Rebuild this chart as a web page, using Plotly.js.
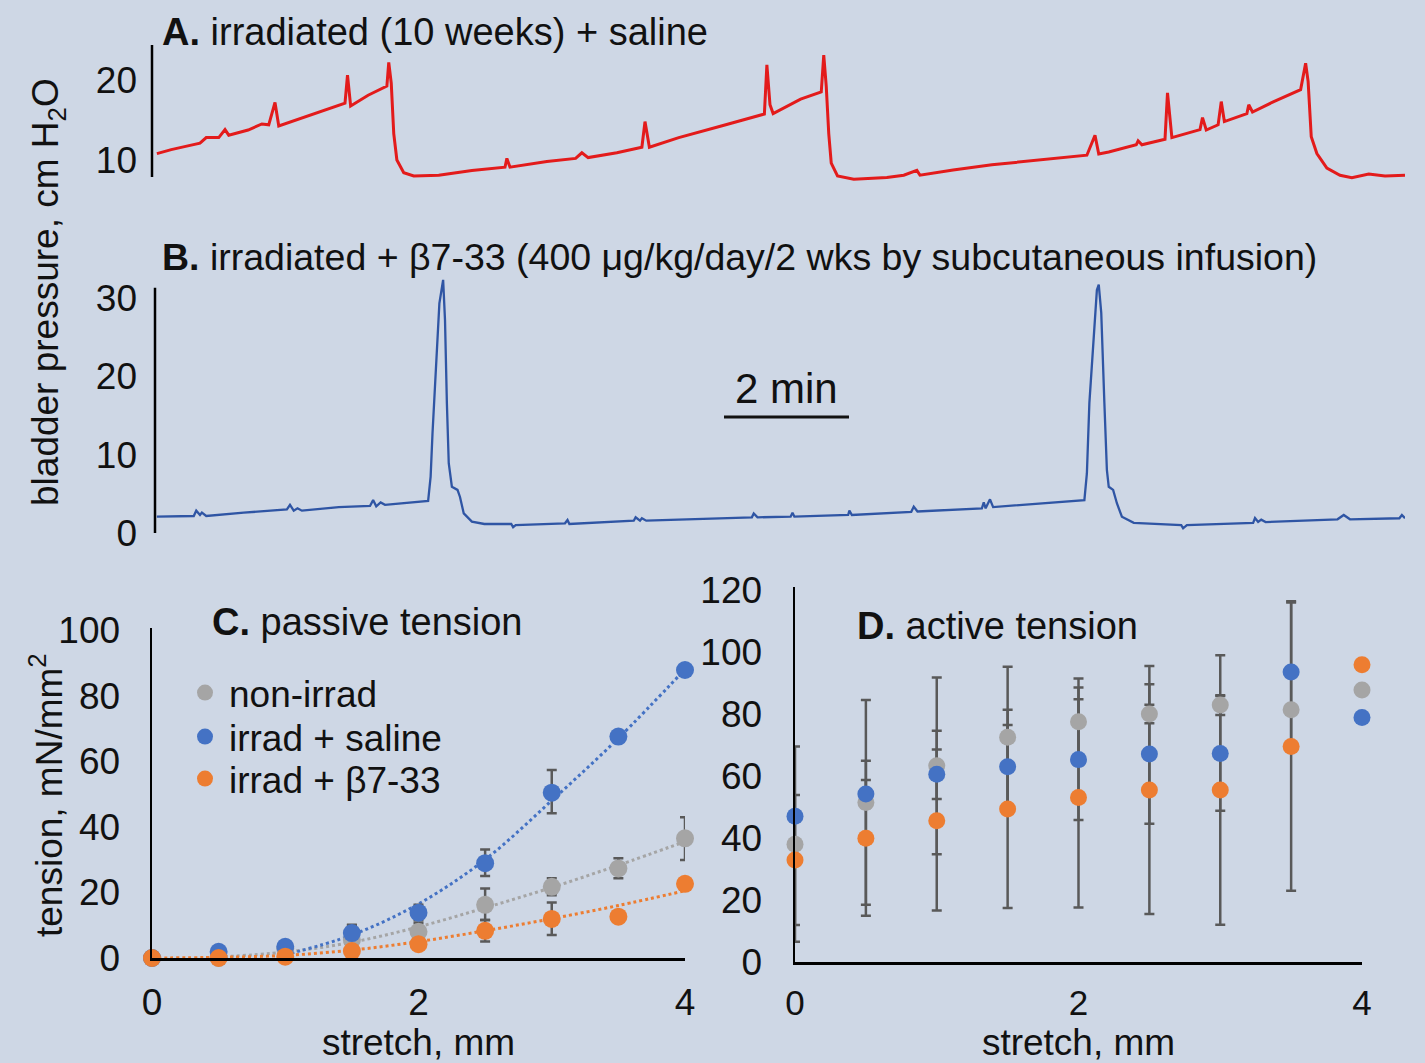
<!DOCTYPE html>
<html>
<head>
<meta charset="utf-8">
<script src="https://cdn.plot.ly/plotly-3.0.1.min.js"></script>
<style>html,body{margin:0;padding:0;background:#ced7e5;}#chart{width:1425px;height:1063px;}</style>
</head>
<body>
<div id="chart"></div>
<script>
// ---------- Panel A: irradiated + saline, bladder pressure trace (time in min, cm H2O)
const timeA = [0.03,0.26,0.49,0.72,0.82,1.02,1.12,1.18,1.49,1.71,1.82,1.92,1.98,2.42,2.88,3.04,3.08,3.13,3.41,3.71,3.74,3.78,3.82,3.87,3.98,4.14,4.54,5.07,5.60,5.63,5.68,6.27,6.73,6.83,6.93,7.39,7.79,7.84,7.91,8.38,9.06,9.58,9.75,9.79,9.84,9.89,10.17,10.33,10.66,10.70,10.74,10.78,10.82,10.92,11.18,11.71,11.98,12.19,12.24,12.77,13.39,14.02,14.48,14.91,15.04,15.10,15.26,15.70,15.73,15.79,16.16,16.20,16.27,16.72,16.76,16.82,17.01,17.06,17.11,17.47,17.50,17.56,17.90,18.33,18.41,18.45,18.50,18.59,18.75,18.96,19.15,19.42,19.68,20.00];
const pressA = [10.8,11.3,11.7,12.1,12.8,12.8,13.8,13.1,13.75,14.5,14.4,17.2,14.25,15.4,16.7,17.1,20.6,16.75,18.1,19.25,22.2,19.6,13.3,10.0,8.4,8.0,8.1,8.7,9.1,10.2,9.1,9.8,10.2,10.9,10.3,10.9,11.6,14.8,11.6,12.8,14.25,15.4,15.75,21.9,16.9,15.8,16.9,17.6,18.5,23.1,19.2,13.3,9.6,8.0,7.6,7.8,8.1,8.7,8.1,8.75,9.4,9.9,10.2,10.6,13.1,10.75,11.0,11.9,12.4,11.9,12.6,18.4,12.8,13.8,15.3,13.75,14.4,17.3,14.8,15.8,16.9,16.0,17.3,18.8,22.1,19.8,12.9,10.8,9.0,8.1,7.8,8.25,8.0,8.1];

// ---------- Panel B: irradiated + b7-33, bladder pressure trace
const timeB = [0.03,0.62,0.66,0.72,0.75,0.82,1.42,2.11,2.16,2.22,2.28,2.35,2.94,3.44,3.49,3.54,3.61,3.68,4.37,4.41,4.44,4.49,4.55,4.61,4.64,4.67,4.70,4.75,4.84,4.88,4.94,5.07,5.27,5.70,5.73,5.77,6.56,6.60,6.63,7.66,7.69,7.76,7.79,7.86,9.55,9.58,9.64,10.17,10.20,10.23,11.09,11.11,11.15,12.10,12.14,12.20,13.23,13.26,13.29,13.36,13.41,14.87,14.91,14.95,15.02,15.07,15.10,15.14,15.19,15.23,15.26,15.33,15.39,15.47,15.66,16.42,16.45,16.51,17.57,17.60,17.65,17.70,17.77,18.92,19.02,19.12,19.91,19.95,20.00];
const pressB = [2.08,2.17,2.85,2.3,2.6,2.17,2.6,3.0,3.6,2.85,3.15,2.85,3.3,3.45,4.2,3.4,3.9,3.6,4.1,7.2,12.7,20.8,29.3,32.3,27.2,16.6,8.9,5.9,5.5,4.6,2.5,1.45,1.15,1.15,0.73,1.0,1.24,1.66,1.15,1.57,2.0,1.57,1.88,1.57,2.0,2.5,2.0,2.08,2.6,2.08,2.3,2.85,2.3,2.7,3.36,2.75,3.15,3.9,3.15,4.3,3.3,4.2,7.6,16.6,25.9,31.0,31.7,28.1,16.6,8.05,5.9,5.5,3.8,2.08,1.3,1.0,0.6,1.0,1.3,1.9,1.4,1.7,1.4,1.75,2.3,1.75,1.88,2.3,1.88];

// ---------- Panels C & D: stretch (mm)
const stretch = [0,0.5,1,1.5,2,2.5,3,3.5,4];
const seriesNames = ['non-irrad','irrad + saline','irrad + \u03b27-33'];

// C. passive tension (mN/mm2)
const passiveNonIrrad = [0,0,2.9,5.5,8.0,16.2,21.7,27.3,36.5];
const passiveSaline   = [0,1.9,3.4,7.6,13.8,28.9,50.4,67.5,87.8];
const passiveB733     = [0,0,0.4,2.1,4.2,8.3,11.9,12.6,22.6];
const passiveNonIrradErrUp = [0,0,0,4.5,2.6,5.0,2.6,3.1,6.4];
const passiveNonIrradErrDn = [0,0,0,4.5,2.6,4.6,2.6,3.0,6.6];
const passiveSalineErrUp   = [0,0,0,2.5,2.4,4.2,6.9,0,0];
const passiveSalineErrDn   = [0,0,0,2.5,2.4,3.9,6.3,0,0];
const passiveB733ErrUp     = [0,0,0,0,0,3.3,5.0,0,0];
const passiveB733ErrDn     = [0,0,0,0,0,3.3,4.9,0,0];
// dotted trend lines
const trendNonIrradX = [0.5,1,1.5,2,2.5,3,3.5,4];
const trendNonIrradY = [0.3,1.8,4.8,9.5,15.3,21.5,28.3,35.5];
const trendSalineX = [1,1.5,2,2.5,3,3.5,4];
const trendSalineY = [1.0,7.0,16.5,30.0,48.0,67.0,88.0];
const trendB733X = [0,0.5,1,1.5,2,2.5,3,3.5,4];
const trendB733Y = [0,0.2,0.8,2.4,5.0,8.3,12.0,16.0,20.5];

// D. active tension (mN/mm2)
const activeNonIrrad = [38,51.5,63.3,72.5,77.5,80,82.9,81.4,87.8];
const activeSaline   = [47,54.2,60.6,63,65.3,67.1,67.3,93.6,78.9];
const activeB733     = [32.9,39.9,45.6,49.4,53.1,55.5,55.5,69.5,95.9];
const activeNonIrradErr = [31.5,33,28.5,22.8,14,3,3.2,0,0];
const activeSalineErr   = [0,4.5,8,13.5,19.5,22.5,18.5,22.8,0];
const activeB733Err     = [21,25,29,32,35.5,40,43.5,46.5,0];

// axis extents of the trace panels (where the drawn axis lines stop)
const axisA = [7.875, 24.375];
const axisB = [0, 31.3];

// ---------- styling
const FONT = 'Liberation Sans, Arial, Helvetica, sans-serif';
const GRAY = '#a5a5a5', BLUE = '#4472c4', ORANGE = '#ed7d31', ERR = '#595959';
const W = 1425, H = 1063;
const px = v => v / W;
const py = v => 1 - v / H;
const TICK = 37, TXT = 37, TTL = 38;

function errTrace(xa, ya, y, up, dn) {
  return {x: stretch, y: y, xaxis: xa, yaxis: ya, type: 'scatter', mode: 'markers',
    marker: {size: 2, color: 'rgba(0,0,0,0)'}, showlegend: false, hoverinfo: 'skip', cliponaxis: false,
    error_y: {type: 'data', array: up, arrayminus: dn, symmetric: false, color: ERR, thickness: 2.5, width: 5}};
}
function markTrace(xa, ya, y, color, name, size, legend) {
  const t = {x: stretch, y: y, xaxis: xa, yaxis: ya, type: 'scatter', mode: 'markers', name: name,
    marker: {size: size, color: color}, showlegend: !!legend, cliponaxis: false};
  if (legend) t.legend = legend;
  return t;
}
function trendTrace(xs, ys, color) {
  return {x: xs, y: ys, xaxis: 'x3', yaxis: 'y3', type: 'scatter', mode: 'lines',
    line: {color: color, width: 3, dash: 'dot', shape: 'spline'}, showlegend: false, hoverinfo: 'skip'};
}

const traces = [
  {x: timeA, y: pressA, xaxis: 'x', yaxis: 'y', type: 'scatter', mode: 'lines',
   line: {color: '#e31b1b', width: 3}, showlegend: false, name: 'A'},
  {x: timeB, y: pressB, xaxis: 'x2', yaxis: 'y2', type: 'scatter', mode: 'lines',
   line: {color: '#2f55a4', width: 2.3}, showlegend: false, name: 'B'},
  // C
  trendTrace(trendNonIrradX, trendNonIrradY, GRAY),
  trendTrace(trendSalineX, trendSalineY, BLUE),
  trendTrace(trendB733X, trendB733Y, ORANGE),
  errTrace('x3','y3', passiveNonIrrad, passiveNonIrradErrUp, passiveNonIrradErrDn),
  errTrace('x3','y3', passiveSaline, passiveSalineErrUp, passiveSalineErrDn),
  errTrace('x3','y3', passiveB733, passiveB733ErrUp, passiveB733ErrDn),
  markTrace('x3','y3', passiveNonIrrad, GRAY, seriesNames[0], 18, 'legend'),
  markTrace('x3','y3', passiveSaline, BLUE, seriesNames[1], 18, 'legend2'),
  markTrace('x3','y3', passiveB733, ORANGE, seriesNames[2], 18, 'legend3'),
  // D
  errTrace('x4','y4', activeNonIrrad, activeNonIrradErr, activeNonIrradErr),
  errTrace('x4','y4', activeSaline, activeSalineErr, activeSalineErr),
  errTrace('x4','y4', activeB733, activeB733Err, activeB733Err),
  markTrace('x4','y4', activeNonIrrad, GRAY, seriesNames[0], 17, null),
  markTrace('x4','y4', activeSaline, BLUE, seriesNames[1], 17, null),
  markTrace('x4','y4', activeB733, ORANGE, seriesNames[2], 17, null)
];

const axisBase = {showline: true, linecolor: '#000', linewidth: 2.5, showgrid: false, zeroline: false,
  ticks: '', tickfont: {family: FONT, size: TICK, color: '#111'}, fixedrange: true};

function legendAt(yPix) {
  return {x: px(181), y: py(yPix), xanchor: 'left', yanchor: 'middle', bgcolor: 'rgba(0,0,0,0)',
    font: {family: FONT, size: TXT, color: '#111'}, itemwidth: 38};
}

const layout = {
  width: W, height: H,
  margin: {l: 0, r: 0, t: 0, b: 0},
  paper_bgcolor: '#ced7e5', plot_bgcolor: 'rgba(0,0,0,0)',
  font: {family: FONT, color: '#111'},
  showlegend: true,
  legend: legendAt(693), legend2: legendAt(737), legend3: legendAt(779),
  xaxis: {domain: [px(152), px(1405)], range: [-0.048, 20], visible: false, fixedrange: true},
  yaxis: Object.assign({}, axisBase, {showline: false, domain: [py(188), py(40)], range: [6.5, 25], tickvals: [10, 20], ticklabelstandoff: 14}),
  xaxis2: {domain: [px(155), px(1405)], range: [0, 20], visible: false, fixedrange: true, anchor: 'y2'},
  yaxis2: Object.assign({}, axisBase, {showline: false, domain: [py(533), py(276)], range: [0, 32.8], tickvals: [0, 10, 20, 30], ticklabelstandoff: 17, anchor: 'x2'}),
  xaxis3: Object.assign({}, axisBase, {domain: [px(152), px(685)], range: [0, 4], tickvals: [0, 2, 4], anchor: 'y3', ticklabelstandoff: 10,
    title: {text: 'stretch, mm', font: {family: FONT, size: TXT, color: '#111'}, standoff: 10}}),
  yaxis3: Object.assign({}, axisBase, {domain: [py(958), py(628)], range: [0, 100.6], tickvals: [0, 20, 40, 60, 80, 100], anchor: 'x3', ticklabelstandoff: 22}),
  xaxis4: Object.assign({}, axisBase, {domain: [px(795), px(1362)], range: [0, 4], tickvals: [0, 2, 4], anchor: 'y4', ticklabelstandoff: 8,
    tickfont: {family: FONT, size: 35, color: '#111'},
    title: {text: 'stretch, mm', font: {family: FONT, size: TXT, color: '#111'}, standoff: 22}}),
  yaxis4: Object.assign({}, axisBase, {domain: [py(962), py(587)], range: [0, 121], tickvals: [0, 20, 40, 60, 80, 100, 120], anchor: 'x4', ticklabelstandoff: 23}),
  annotations: [
    {text: '<b>A.</b> irradiated (10 weeks) + saline', x: px(160), y: py(32), xref: 'paper', yref: 'paper',
     xanchor: 'left', yanchor: 'middle', showarrow: false, font: {family: FONT, size: TTL, color: '#111'}},
    {text: '<b>B.</b> irradiated + \u03b27-33 (400 \u03bcg/kg/day/2 wks by subcutaneous infusion)', x: px(160), y: py(257), xref: 'paper', yref: 'paper',
     xanchor: 'left', yanchor: 'middle', showarrow: false, font: {family: FONT, size: 37.5, color: '#111'}},
    {text: '2 min', x: px(786), y: py(388), xref: 'paper', yref: 'paper', xanchor: 'center', yanchor: 'middle',
     showarrow: false, font: {family: FONT, size: 42, color: '#111'}},
    {text: '<b>C.</b> passive tension', x: px(210), y: py(622), xref: 'paper', yref: 'paper',
     xanchor: 'left', yanchor: 'middle', showarrow: false, font: {family: FONT, size: TTL, color: '#111'}},
    {text: '<b>D.</b> active tension', x: px(855), y: py(626), xref: 'paper', yref: 'paper',
     xanchor: 'left', yanchor: 'middle', showarrow: false, font: {family: FONT, size: TTL, color: '#111'}},
    {text: 'bladder pressure, cm H<sub>2</sub>O', x: px(48), y: py(292), xref: 'paper', yref: 'paper', textangle: -90,
     xanchor: 'center', yanchor: 'middle', showarrow: false, font: {family: FONT, size: TXT, color: '#111'}},
    {text: 'tension, mN/mm<sup>2</sup>', x: px(46), y: py(795), xref: 'paper', yref: 'paper', textangle: -90,
     xanchor: 'center', yanchor: 'middle', showarrow: false, font: {family: FONT, size: TXT, color: '#111'}}
  ],
  shapes: [
    // y-axis lines of the trace panels, drawn over their labelled extents
    {type: 'line', xref: 'x domain', yref: 'y', x0: 0, x1: 0, y0: axisA[0], y1: axisA[1], line: {color: '#000', width: 2.5}},
    {type: 'line', xref: 'x2 domain', yref: 'y2', x0: 0, x1: 0, y0: axisB[0], y1: axisB[1], line: {color: '#000', width: 2.5}},
    // 2-minute scale bar drawn in panel B time units
    {type: 'line', xref: 'x2', yref: 'paper', x0: 9.104, x1: 11.104, y0: py(417), y1: py(417), line: {color: '#111', width: 3}}
  ]
};

Plotly.newPlot('chart', traces, layout, {displayModeBar: false, staticPlot: true});
</script>
</body>
</html>
